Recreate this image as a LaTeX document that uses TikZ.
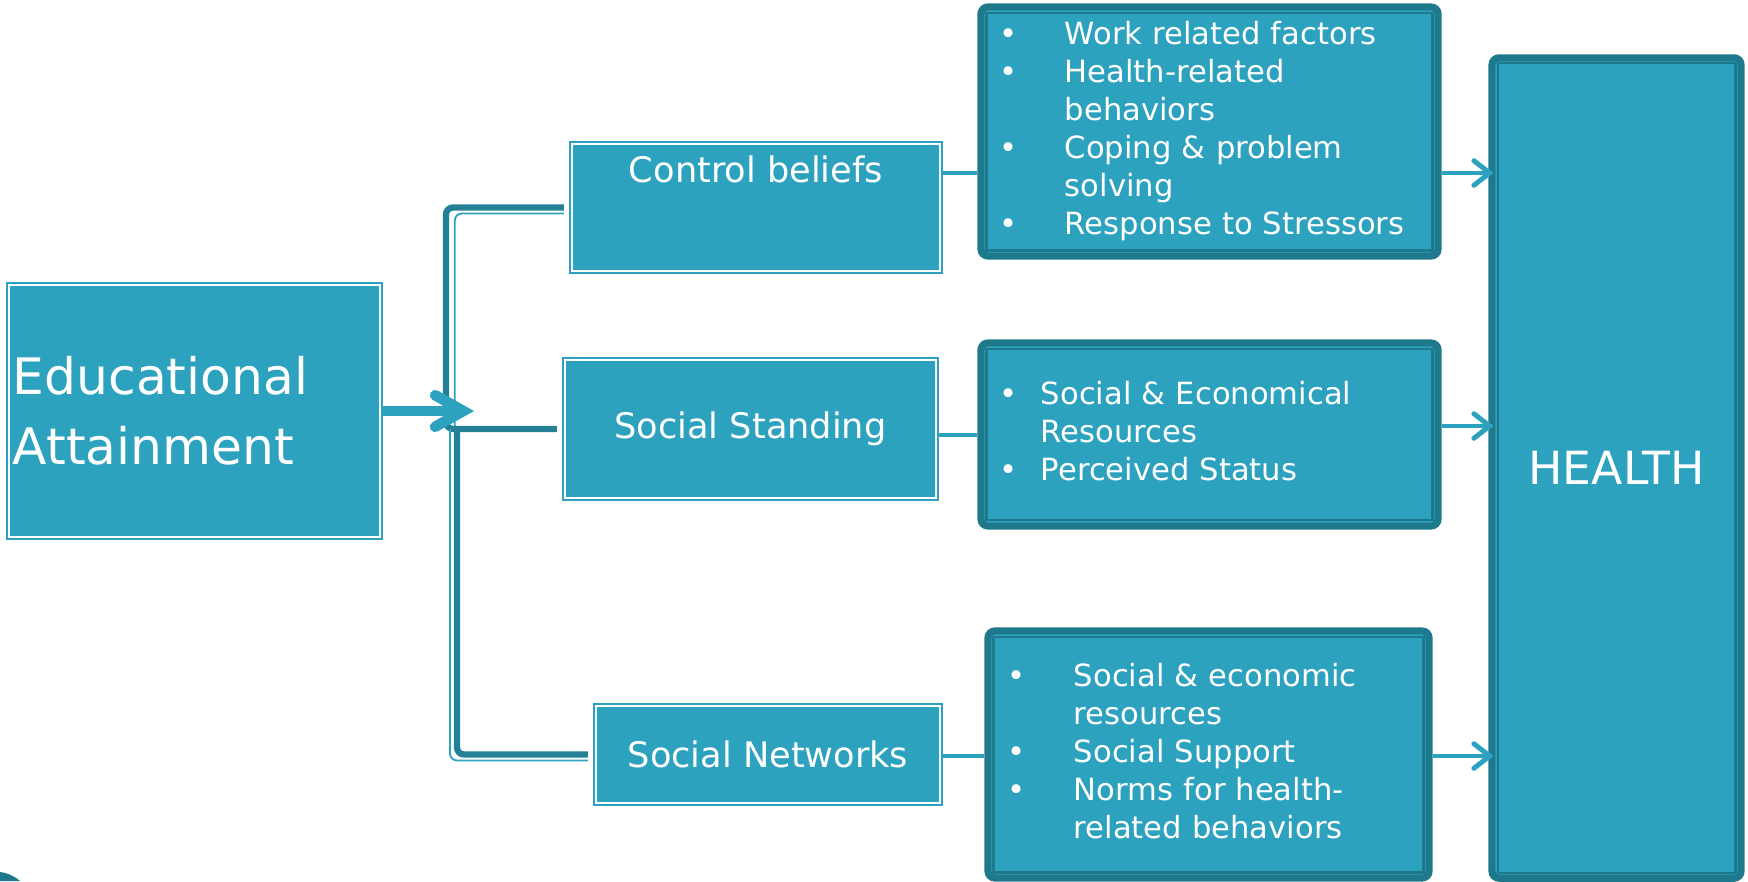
\documentclass[tikz,border=0pt]{standalone}
\usepackage{fontspec}
\setmainfont{DejaVu Sans}
\usetikzlibrary{arrows.meta}
\definecolor{tealfill}{RGB}{45,162,191}
\definecolor{tealdark}{RGB}{31,121,140}
\definecolor{tealline}{RGB}{35,128,150}

\begin{document}
\begin{tikzpicture}[x=0.01cm,y=-0.01cm,
    smallbox/.style={draw=tealfill,fill=tealfill,double=white,double distance=0.6pt,line width=0.55pt,text=white,inner sep=0pt},
    bigbox/.style={draw=tealdark,fill=tealfill,line width=2pt,rounded corners=2pt,text=white,inner sep=0pt},
    innerline/.style={draw=tealdark,line width=0.6pt},
    link/.style={draw=tealfill,line width=1.4pt},
    tohealth/.style={link,shorten >=-1.5pt,-{Straight Barb[length=4.5pt,width=7pt,line cap=round]}},
    fork/.style={draw=tealline,line width=1.8pt,rounded corners=2pt},
    forkthin/.style={draw=tealfill,line width=0.5pt,rounded corners=2pt},
    listfont/.style={font=\fontsize{8.7}{10.8}\selectfont}]

    \useasboundingbox (0,0) rectangle (1748,881);

    \fill[tealdark] (0,872) .. controls (8,873) and (16,877) .. (20,881) -- (0,881) -- cycle;

    \node[smallbox,minimum width=3.71cm,minimum height=2.52cm,text width=3.63cm,align=left,
      font=\fontsize{14.3}{19.9}\selectfont] (edu) at (194.5,411) {Educational\\Attainment};

    \node[smallbox,anchor=north,minimum width=3.68cm,text height=0.39cm,text depth=0.88cm,
      font=\fontsize{10}{12}\selectfont] (cb) at (756,143) {Control beliefs};

    \node[smallbox,minimum width=3.71cm,minimum height=1.38cm,
      font=\fontsize{10}{12}\selectfont] (ss) at (750.5,429) {Social Standing};

    \node[smallbox,minimum width=3.44cm,minimum height=0.97cm,
      font=\fontsize{10}{12}\selectfont] (sn) at (768,754.5) {Social Networks};

    \node[bigbox,listfont,minimum width=4.57cm,minimum height=2.49cm,text width=4.19cm,align=left]
      (b1) at (1209.5,131.5) {\begin{tabular}{@{}p{0.65cm}@{}l@{}}
        • & Work related factors\\
        • & Health-related\\
          & behaviors\\
        • & Coping \& problem\\
          & solving\\
        • & Response to Stressors
      \end{tabular}};

    \node[bigbox,listfont,minimum width=4.57cm,minimum height=1.83cm,text width=4.19cm,align=left]
      (b2) at (1209.5,434.5) {\begin{tabular}{@{}p{0.41cm}@{}l@{}}
        • & Social \& Economical\\
          & Resources\\
        • & Perceived Status
      \end{tabular}};

    \node[bigbox,listfont,minimum width=4.41cm,minimum height=2.47cm,text width=4.01cm,align=left]
      (b3) at (1208.5,754.5) {\begin{tabular}{@{}p{0.66cm}@{}l@{}}
        • & Social \& economic\\
          & resources\\
        • & Social Support\\
        • & Norms for health-\\
          & related behaviors
      \end{tabular}};

    \node[bigbox,minimum width=2.49cm,minimum height=8.2cm,
      font=\fontsize{13}{15}\selectfont] (hl) at (1616.5,468) {HEALTH};

    \foreach \b in {b1,b2,b3,hl}
      \draw[innerline] ([shift={(2.6pt,-2.6pt)}]\b.north west) rectangle ([shift={(-2.6pt,2.6pt)}]\b.south east);

    \coordinate (fu) at (446,429);
    \coordinate (fl) at (457,429);
    \coordinate (hub) at (474,411);
    \coordinate (r1) at (0,173);
    \coordinate (r2) at (0,435);
    \coordinate (q2) at (0,426);
    \coordinate (r3) at (0,756);

    \draw[forkthin] ([shift={(-2pt,-1.7pt)}]cb.west) -| ([xshift=2.5pt]fu);
    \draw[fork] ([xshift=-2pt]cb.west) -| (fu) -- ([xshift=-2pt]ss.west);

    \draw[forkthin] ([xshift=-2pt]fl) |- ([shift={(-2pt,-1.7pt)}]sn.west);
    \draw[fork] (fl) |- ([xshift=-2pt]sn.west);

    \draw[link,line width=3pt,-{Straight Barb[length=8pt,width=9pt,line cap=round]}] (edu.east) -- (hub);

    \draw[link] (cb.east |- r1) -- (b1.west |- r1);
    \draw[tohealth] (b1.east |- r1) -- (hl.west |- r1);

    \draw[link] (ss.east |- r2) -- (b2.west |- r2);
    \draw[tohealth] (b2.east |- q2) -- (hl.west |- q2);

    \draw[link] (sn.east |- r3) -- (b3.west |- r3);
    \draw[tohealth] (b3.east |- r3) -- (hl.west |- r3);

  \end{tikzpicture}
\end{document}
